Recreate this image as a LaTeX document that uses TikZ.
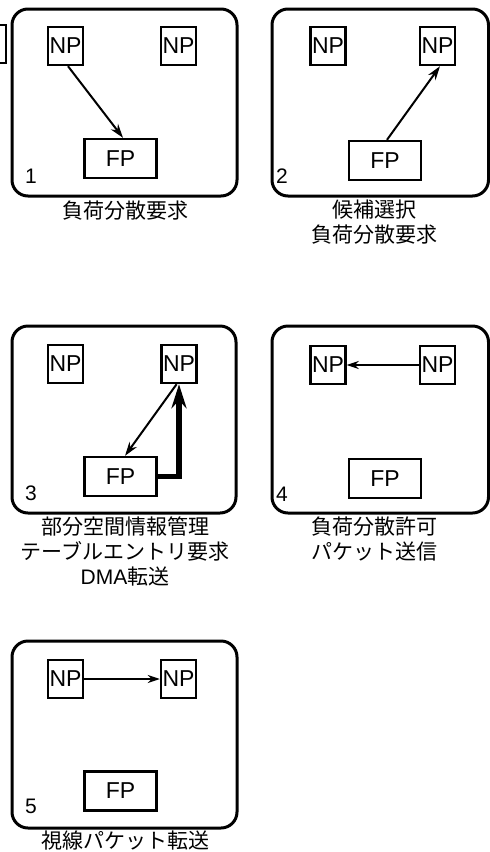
\documentclass[tikz,border=0pt]{standalone}
\usepackage{fontspec}
\setmainfont{Liberation Sans}
\newfontfamily\jp{Noto Sans CJK JP}
\usetikzlibrary{arrows.meta}
\tikzset{
  panel/.style={draw, line width=1.5pt, rounded corners=8pt},
  npbox/.style={draw, line width=1.2pt, minimum width=17.5pt, minimum height=19pt, inner sep=0pt, font=\fontsize{11.5}{12}\selectfont},
  fpbox/.style={draw, line width=1.2pt, minimum width=36pt, minimum height=19.5pt, inner sep=0pt, font=\fontsize{11.5}{12}\selectfont},
  num/.style={inner sep=0pt, font=\fontsize{10.5}{11}\selectfont},
  lbl/.style={inner sep=0pt, align=center, font=\jp\fontsize{10.5}{11.5}\selectfont},
  arr/.style={line width=1pt, -{Stealth[length=7pt,width=4.5pt]}},
  tarr/.style={line width=0.9pt, -{Stealth[length=6pt,width=4pt]}},
  thick arr/.style={line width=2.8pt, -{Stealth[length=12pt,width=7.5pt]}}
}
\begin{document}
\begin{tikzpicture}[x=0.5pt,y=-0.5pt]
\useasboundingbox (0,0) rectangle (490,852);
\begin{scope}
\clip (0,0) rectangle (490,852);
\node[draw, line width=0.8pt, minimum width=15pt, minimum height=19pt, inner sep=0pt] (edgebox) at (-9,44) {};
\end{scope}
% Panel 1
\draw[panel] (12,9) rectangle (237,196);
\node[npbox] (p1a) at (65.5,46) {NP};
\node[npbox] (p1b) at (178.5,46) {NP};
\node[fpbox] (p1fp) at (120.5,158.5) {FP};
\node[num] (p1n) at (31,176) {1};
\node[lbl] (p1l) at (125,211) {負荷分散要求};
\draw[arr] ([xshift=1.25pt]p1a.south) -- ([xshift=1.25pt]p1fp.north);
% Panel 2
\draw[panel] (272,9) rectangle (488.5,196);
\node[npbox] (p2a) at (328,46) {NP};
\node[npbox] (p2b) at (437.5,46) {NP};
\node[fpbox] (p2fp) at (385,160.5) {FP};
\node[num] (p2n) at (282,176) {2};
\node[lbl] (p2l) at (374,222) {候補選択\\[1pt]負荷分散要求};
\draw[arr] ([xshift=1pt]p2fp.north) -- ([xshift=1.25pt]p2b.south);
% Panel 3
\draw[panel] (12,326) rectangle (236,513);
\node[npbox] (p3a) at (65.5,364) {NP};
\node[npbox] (p3b) at (179,364) {NP};
\node[fpbox] (p3fp) at (120.5,476.5) {FP};
\node[num] (p3n) at (31,493) {3};
\node[lbl] (p3l) at (125,551) {部分空間情報管理\\[1pt]テーブルエントリ要求\\[1pt]{\fontspec{Liberation Sans}DMA}転送};
\draw[thick arr] (p3fp.east) -| (p3b.south);
\draw[arr] ([xshift=-1.2pt]p3b.south) -- ([xshift=2.25pt]p3fp.north);
% Panel 4
\draw[panel] (272,326) rectangle (488.5,513);
\node[npbox] (p4a) at (328,365) {NP};
\node[npbox] (p4b) at (437.5,365) {NP};
\node[fpbox] (p4fp) at (385,478.5) {FP};
\node[num] (p4n) at (282,494) {4};
\node[lbl] (p4l) at (374,538.5) {負荷分散許可\\[1pt]パケット送信};
\draw[tarr] (p4b.west) -- (p4a.east);
% Panel 5
\draw[panel] (12,641) rectangle (237,828);
\node[npbox] (p5a) at (65.5,679) {NP};
\node[npbox] (p5b) at (178.5,679) {NP};
\node[fpbox] (p5fp) at (120.5,791) {FP};
\node[num] (p5n) at (31,806) {5};
\node[lbl] (p5l) at (125,840) {視線パケット転送};
\draw[tarr] (p5a.east) -- (p5b.west);
\end{tikzpicture}
\end{document}
